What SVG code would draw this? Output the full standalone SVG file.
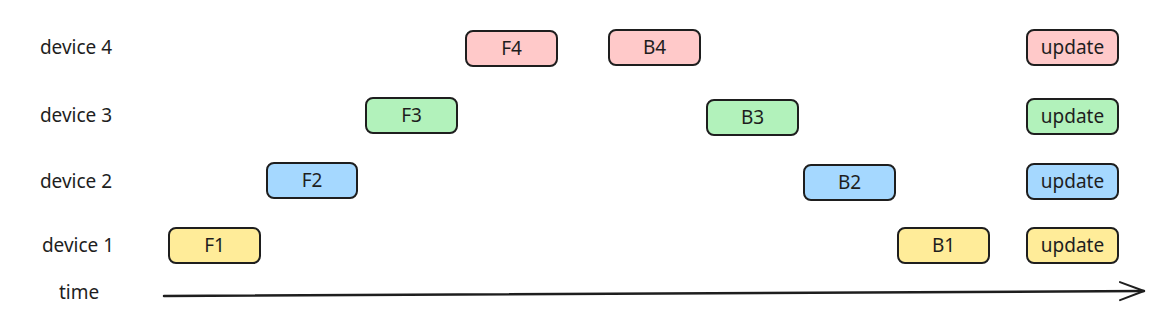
<svg xmlns="http://www.w3.org/2000/svg" width="1173" height="318" viewBox="0 0 1173 318">
<style>
.lbl{font-family:"Noto Sans","Open Sans",sans-serif;font-size:19px;fill:#1e1e1e;text-anchor:middle;dominant-baseline:central}
.box{stroke:#1e1e1e;stroke-width:2;}
.r{fill:#ffc9c9}.g{fill:#b2f2bb}.b{fill:#a5d8ff}.y{fill:#ffec99}
</style>
<defs>
<marker id="ah" markerWidth="30" markerHeight="24" refX="25" refY="10" orient="auto" markerUnits="userSpaceOnUse">
<path d="M1,1 L25,10 L1,19" fill="none" stroke="#1e1e1e" stroke-width="2" stroke-linecap="round" stroke-linejoin="round"/>
</marker>
</defs>
<rect width="1173" height="318" fill="#fff"/>
<g id="labels">
<text class="lbl" x="76" y="47">device 4</text>
<text class="lbl" x="76" y="115">device 3</text>
<text class="lbl" x="76" y="181">device 2</text>
<text class="lbl" x="78" y="245">device 1</text>
<text class="lbl" x="79" y="292">time</text>
</g>
<g id="F4"><rect class="box r" x="466" y="31" width="91" height="35" rx="7"/><text class="lbl" x="511.5" y="48">F4</text></g>
<g id="B4"><rect class="box r" x="609" y="30" width="91" height="35" rx="7"/><text class="lbl" x="654.5" y="47">B4</text></g>
<g id="U4"><rect class="box r" x="1027" y="30" width="91" height="35" rx="7"/><text class="lbl" x="1072.5" y="47">update</text></g>
<g id="F3"><rect class="box g" x="366" y="98" width="91" height="35" rx="7"/><text class="lbl" x="411.5" y="115">F3</text></g>
<g id="B3"><rect class="box g" x="707" y="100" width="91" height="35" rx="7"/><text class="lbl" x="752.5" y="117">B3</text></g>
<g id="U3"><rect class="box g" x="1027" y="99" width="91" height="35" rx="7"/><text class="lbl" x="1072.5" y="116">update</text></g>
<g id="F2"><rect class="box b" x="267" y="163" width="90" height="35" rx="7"/><text class="lbl" x="312" y="180">F2</text></g>
<g id="B2"><rect class="box b" x="804" y="165" width="91" height="35" rx="7"/><text class="lbl" x="849.5" y="182">B2</text></g>
<g id="U2"><rect class="box b" x="1027" y="164" width="91" height="35" rx="7"/><text class="lbl" x="1072.5" y="181">update</text></g>
<g id="F1"><rect class="box y" x="169" y="228" width="91" height="35" rx="7"/><text class="lbl" x="214.5" y="245">F1</text></g>
<g id="B1"><rect class="box y" x="898" y="228" width="91" height="35" rx="7"/><text class="lbl" x="943.5" y="245">B1</text></g>
<g id="U1"><rect class="box y" x="1027" y="228" width="91" height="35" rx="7"/><text class="lbl" x="1072.5" y="245">update</text></g>
<g id="connectors">
<path d="M164,296 L1144,291" fill="none" stroke="#1e1e1e" stroke-width="2.5" stroke-linecap="round" marker-end="url(#ah)"/>
</g>
</svg>
